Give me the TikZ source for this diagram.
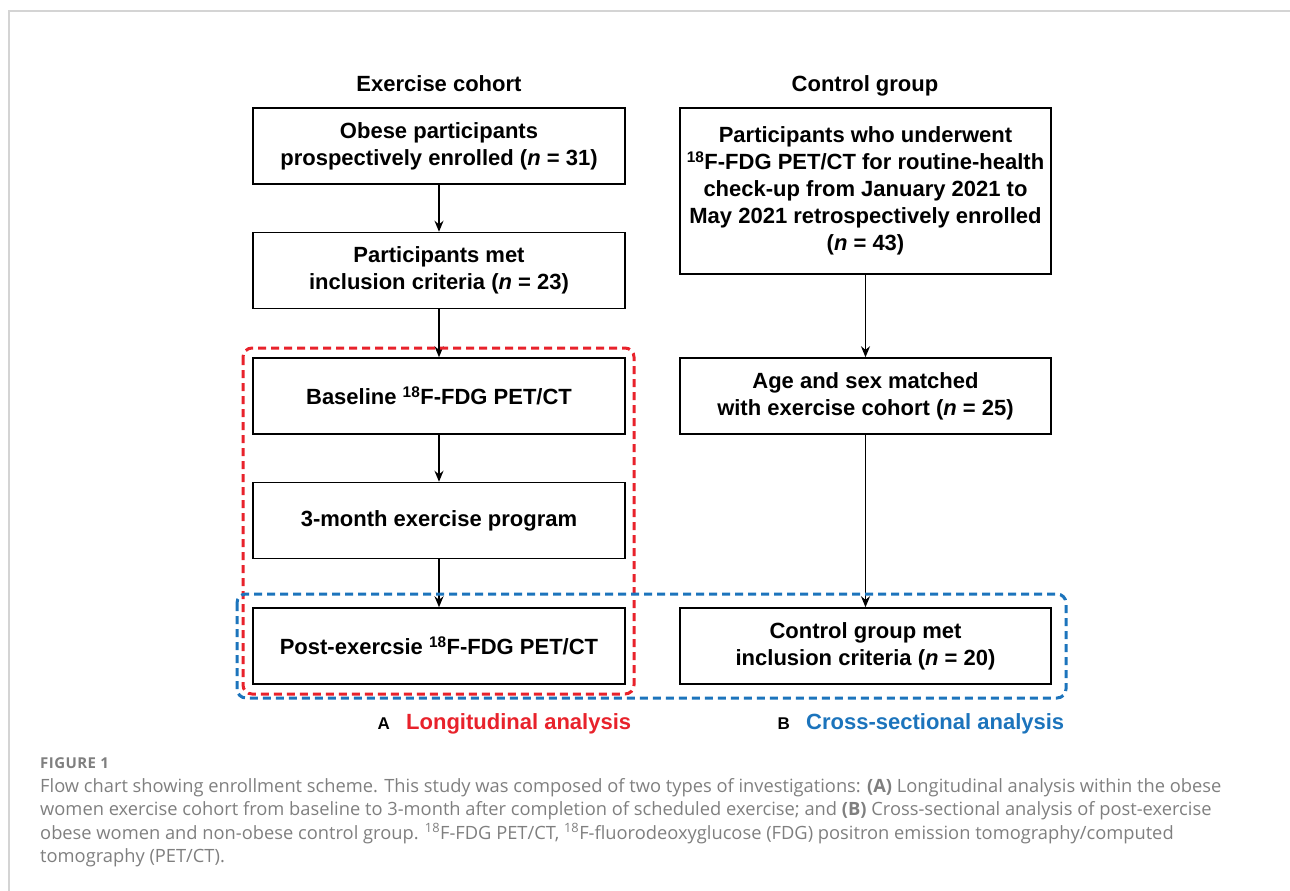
\documentclass[tikz,border=0pt]{standalone}
\usepackage{fontspec}
\setmainfont{Liberation Sans}
\newfontfamily\capfont{Open Sans}
\newfontfamily\capsemi[LetterSpace=3]{Open Sans}
\usetikzlibrary{arrows.meta}
\definecolor{myred}{HTML}{E8222B}
\definecolor{myblue}{HTML}{1C74BC}
\definecolor{capgray}{HTML}{7F7F7F}
\definecolor{framegray}{HTML}{D4D4D4}
\begin{document}
\begin{tikzpicture}[x=1pt,y=-1pt,
  box/.style={draw=black,line width=1.5pt,inner sep=0pt,align=center,font=\fontsize{22}{27}\selectfont\bfseries},
  lbox/.style={box,minimum width=372pt,minimum height=76pt},
  rbox/.style={box,minimum width=371pt,minimum height=76pt},
  head/.style={anchor=base,font=\fontsize{22}{26}\selectfont\bfseries},
  arr/.style={-{Stealth[length=11pt,width=9pt]},line width=1.5pt},
  grp/.style={dashed,dash pattern=on 8pt off 5pt,line width=3pt,rounded corners=9pt},
  capline/.style={anchor=base west,inner sep=0pt,text=capgray,font=\capfont\fontsize{18.3}{22}\selectfont}
]
\useasboundingbox (0,0) rectangle (1290,891);
\draw[framegray,line width=2pt] (1290,11) -- (9,11) -- (9,891);

\node[head] (h1) at (439,92) {Exercise cohort};
\node[head] (h2) at (865,92) {Control group};

\node[lbox] (b1) at (439,146) {Obese participants\\prospectively enrolled (\textit{n} = 31)};
\node[lbox] (b2) at (439,270.5) {Participants met\\inclusion criteria (\textit{n} = 23)};
\node[lbox] (b3) at (439,396) {Baseline \textsuperscript{18}F-FDG PET/CT};
\node[lbox] (b4) at (439,520.5) {3-month exercise program};
\node[lbox] (b5) at (439,646) {Post-exercsie \textsuperscript{18}F-FDG PET/CT};

\node[rbox,minimum height=166pt] (r1) at (865.5,191) {Participants who underwent\\\textsuperscript{18}F-FDG PET/CT for routine-health\\check-up from January 2021 to\\May 2021 retrospectively enrolled\\(\textit{n} = 43)};
\node[rbox] (r2) at (865.5,396) {Age and sex matched\\with exercise cohort (\textit{n} = 25)};
\node[rbox] (r3) at (865.5,646) {Control group met\\inclusion criteria (\textit{n} = 20)};

\draw[arr] (b1) -- (b2);
\draw[arr] (b2) -- (b3);
\draw[arr] (b3) -- (b4);
\draw[arr] (b4) -- (b5);
\draw[arr] (r1) -- (r2);
\draw[arr] (r2) -- (r3);

\draw[grp,myred] (243,348) rectangle (634,694);
\draw[grp,myblue] (237,594) rectangle (1066,698);

\node[anchor=base east,inner sep=0pt,font=\fontsize{17}{20}\selectfont\bfseries] (la) at (390,729) {A};
\node[anchor=base west,inner sep=0pt,text=myred,font=\fontsize{22}{26}\selectfont\bfseries] (ll) at (406,729) {Longitudinal analysis};
\node[anchor=base east,inner sep=0pt,font=\fontsize{17}{20}\selectfont\bfseries] (lb) at (790,729) {B};
\node[anchor=base west,inner sep=0pt,text=myblue,font=\fontsize{22}{26}\selectfont\bfseries] (lc) at (806,729) {Cross-sectional analysis};

\node[anchor=base west,inner sep=0pt,text=capgray,font=\capsemi\bfseries\fontsize{15}{18}\selectfont] (fig) at (40,768) {FIGURE 1};
\node[capline] (c1) at (40,792) {Flow chart showing enrollment scheme. This study was composed of two types of investigations: \textbf{(A)} Longitudinal analysis within the obese};
\node[capline] (c2) at (40,815.5) {women exercise cohort from baseline to 3-month after completion of scheduled exercise; and \textbf{(B)} Cross-sectional analysis of post-exercise};
\node[capline] (c3) at (40,839) {obese women and non-obese control group. \textsuperscript{18}F-FDG PET/CT, \textsuperscript{18}F-fluorodeoxyglucose (FDG) positron emission tomography/computed};
\node[capline] (c4) at (40,862.5) {tomography (PET/CT).};
\end{tikzpicture}
\end{document}
